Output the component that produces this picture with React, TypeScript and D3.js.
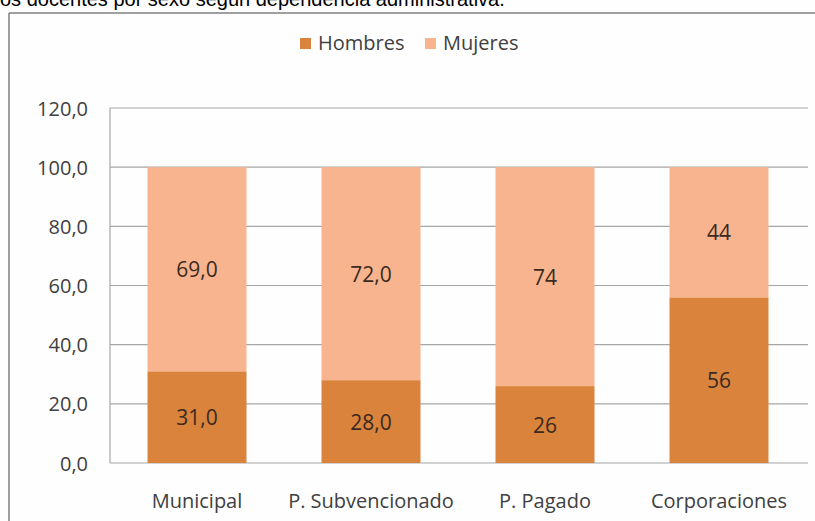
import React from "react";
import * as d3 from "d3";

const categories = ["Municipal", "P. Subvencionado", "P. Pagado", "Corporaciones"];
const hombres = [31, 28, 26, 56];
const mujeres = [69, 72, 74, 44];
const hombresLabels = ["31,0", "28,0", "26", "56"];
const mujeresLabels = ["69,0", "72,0", "74", "44"];
const yTicks = [0, 20, 40, 60, 80, 100, 120];
const seriesNames = ["Hombres", "Mujeres"];
const title = "os docentes por sexo según dependencia administrativa.";

const W = 815;
const H = 521;
const COLORS = ["#D9833D", "#F7B48F"];
const FONT = "'Open Sans', sans-serif";

export default function App() {
  const plotLeft = 110;
  const plotRight = 806;
  const y = d3.scaleLinear().domain([0, 120]).range([463, 108]);
  const x = d3
    .scaleBand<string>()
    .domain(categories)
    .range([plotLeft, plotRight])
    .paddingInner(0.431)
    .paddingOuter(0.2155);
  const fmt = (v: number) => d3.format(".1f")(v).replace(".", ",");
  const bw = x.bandwidth();

  return (
    <svg
      width={W}
      height={H}
      style={{ position: "absolute", left: 0, top: 0, background: "#fefefe" }}
    >
      <text x={0} y={5.5} fontFamily="'Liberation Sans', Arial, sans-serif" fontSize={20} fill="#000">
        {title}
      </text>
      {/* chart frame */}
      <line x1={9} y1={13} x2={W} y2={13} stroke="#7f7f7f" strokeWidth={1.5} />
      <line x1={9} y1={13} x2={9} y2={H} stroke="#7f7f7f" strokeWidth={1.5} />

      {/* legend */}
      {seriesNames.map((n, i) => {
        const lx = i === 0 ? 300 : 425;
        return (
          <g key={n}>
            <rect x={lx} y={38} width={11} height={11} fill={COLORS[i]} />
            <text x={lx + 18} y={50} fontFamily={FONT} fontSize={20} fill="#404040">
              {n}
            </text>
          </g>
        );
      })}

      {/* gridlines */}
      {yTicks.map((t) => (
        <g key={t}>
          <line x1={plotLeft} x2={808} y1={y(t)} y2={y(t)} stroke="#a6a6a6" strokeWidth={1.2} />
          <text
            x={88}
            y={y(t)}
            textAnchor="end"
            dominantBaseline="central"
            fontFamily={FONT}
            fontSize={20}
            fill="#404040"
          >
            {fmt(t)}
          </text>
        </g>
      ))}
      <line x1={plotLeft} x2={plotLeft} y1={y(120)} y2={y(0)} stroke="#a6a6a6" strokeWidth={1.2} />

      {/* bars */}
      {categories.map((c, i) => {
        const x0 = x(c)!;
        const h0 = hombres[i];
        const m0 = mujeres[i];
        return (
          <g key={c}>
            <rect x={x0} y={y(h0)} width={bw} height={y(0) - y(h0)} fill={COLORS[0]} />
            <rect x={x0} y={y(h0 + m0)} width={bw} height={y(h0) - y(h0 + m0)} fill={COLORS[1]} />
            <text
              x={x0 + bw / 2}
              y={(y(0) + y(h0)) / 2}
              textAnchor="middle"
              dominantBaseline="central"
              fontFamily={FONT}
              fontSize={21}
              fill="#3b2a20"
            >
              {hombresLabels[i]}
            </text>
            <text
              x={x0 + bw / 2}
              y={(y(h0) + y(h0 + m0)) / 2}
              textAnchor="middle"
              dominantBaseline="central"
              fontFamily={FONT}
              fontSize={21}
              fill="#3b2a20"
            >
              {mujeresLabels[i]}
            </text>
            <text
              x={x0 + bw / 2}
              y={508}
              textAnchor="middle"
              fontFamily={FONT}
              fontSize={20}
              fill="#404040"
            >
              {c}
            </text>
          </g>
        );
      })}
    </svg>
  );
}
